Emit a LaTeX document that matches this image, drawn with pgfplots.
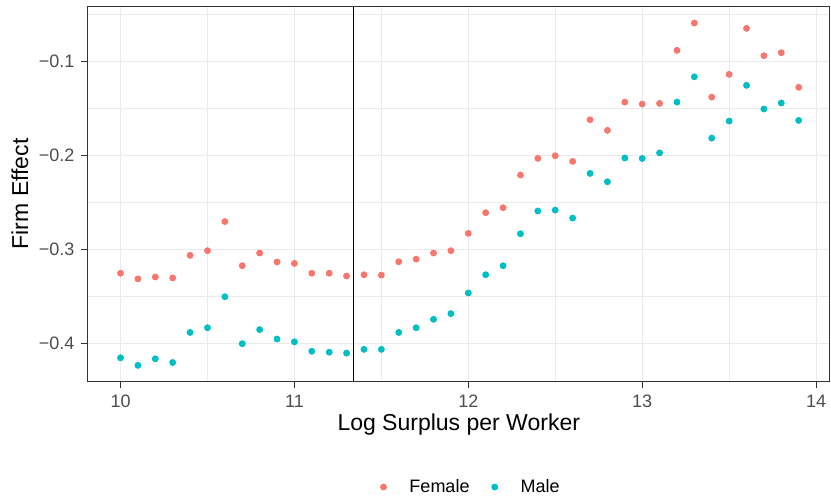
\documentclass[border=0pt]{standalone}
\usepackage{fontspec}
\setmainfont{Liberation Sans}
\usepackage{pgfplots}
\pgfplotsset{compat=1.18}
\usepackage{pgfplotstable}
\definecolor{fcol}{HTML}{F8766D}
\definecolor{mcol}{HTML}{00BFC4}
\definecolor{gridmaj}{HTML}{EBEBEB}
\definecolor{bordercol}{HTML}{333333}
\definecolor{ticklab}{HTML}{4D4D4D}
\pgfplotstableread{
x female male
10.0 -0.325 -0.415
10.1 -0.331 -0.423
10.2 -0.329 -0.416
10.3 -0.330 -0.420
10.4 -0.306 -0.388
10.5 -0.301 -0.383
10.6 -0.270 -0.350
10.7 -0.317 -0.400
10.8 -0.3035 -0.385
10.9 -0.313 -0.395
11.0 -0.3145 -0.398
11.1 -0.325 -0.408
11.2 -0.325 -0.409
11.3 -0.328 -0.410
11.4 -0.3266 -0.406
11.5 -0.327 -0.406
11.6 -0.3128 -0.388
11.7 -0.310 -0.383
11.8 -0.3035 -0.374
11.9 -0.301 -0.368
12.0 -0.2826 -0.346
12.1 -0.2606 -0.3266
12.2 -0.2553 -0.317
12.3 -0.2205 -0.283
12.4 -0.2028 -0.2588
12.5 -0.200 -0.2578
12.6 -0.206 -0.2663
12.7 -0.1617 -0.2188
12.8 -0.173 -0.2277
12.9 -0.1429 -0.2024
13.0 -0.145 -0.2029
13.1 -0.1443 -0.197
13.2 -0.0879 -0.1429
13.3 -0.0588 -0.116
13.4 -0.1376 -0.1812
13.5 -0.1134 -0.1631
13.6 -0.0645 -0.1251
13.7 -0.0936 -0.1503
13.8 -0.0904 -0.1439
13.9 -0.1272 -0.1624
}\datatable
\begin{document}
\begin{tikzpicture}
\useasboundingbox (-43.75pt,-59.15pt) rectangle (371.75pt,190.85pt);
\begin{axis}[
  scale only axis, width=371.25pt, height=187.85pt,
  xmin=9.81, xmax=14.08, ymin=-0.4404, ymax=-0.0407,
  xtick={10,11,12,13,14}, xticklabels={10,11,12,13,14},
  ytick={-0.4,-0.3,-0.2,-0.1}, yticklabels={−0.4,−0.3,−0.2,−0.1},
  minor xtick={10.5,11.5,12.5,13.5},
  minor ytick={-0.35,-0.25,-0.15,-0.05},
  grid=both,
  major grid style={gridmaj, line width=0.55pt},
  minor grid style={gridmaj, line width=0.3pt},
  minor tick length=0pt,
  tick align=outside, major tick length=3pt,
  xtick pos=bottom, ytick pos=left,
  tick style={bordercol, line width=0.5pt},
  axis line style={bordercol, line width=0.5pt},
  ticklabel style={font=\fontsize{9}{10}\selectfont, text=ticklab},
  xlabel={Log Surplus per Worker}, ylabel={Firm Effect},
  label style={font=\fontsize{11.5}{13}\selectfont},
  xlabel style={at={(axis description cs:0.5,-0.1153)}, anchor=center},
  ylabel style={at={(axis description cs:-0.0909,0.5)}, anchor=center},
  legend columns=2,
  legend style={at={(0.518,-0.2803)}, anchor=center, draw=none, fill=none,
    font=\fontsize{9}{10}\selectfont,
    /tikz/every odd column/.append style={column sep=9.5pt},
    /tikz/every even column/.append style={column sep=9.1pt}},
]
\addplot[only marks, color=fcol, mark=*, mark size=1.5pt, mark options={draw=none, fill=fcol}]
  table[x=x, y=female] {\datatable};
\addlegendentry{Female}
\addplot[only marks, color=mcol, mark=*, mark size=1.5pt, mark options={draw=none, fill=mcol}]
  table[x=x, y=male] {\datatable};
\addlegendentry{Male}
\addplot[black, line width=0.5pt, forget plot] coordinates {(11.342,-0.5) (11.342,0)};
\end{axis}
\end{tikzpicture}
\end{document}
